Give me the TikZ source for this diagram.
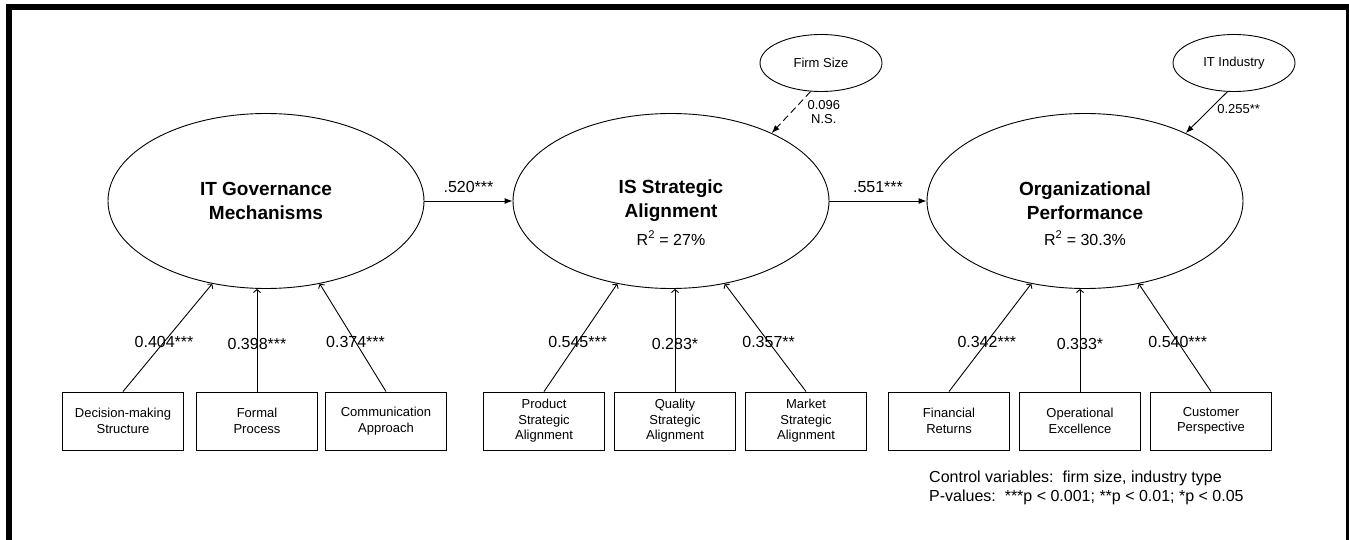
\documentclass[tikz,border=0pt]{standalone}
\usepackage{fontspec}
\setmainfont{Liberation Sans}
\usepackage{tikz}
\usetikzlibrary{shapes.geometric,arrows.meta}

\tikzset{
  construct/.style={ellipse,draw,line width=0.9pt,minimum width=316pt,minimum height=175pt,
    inner sep=0pt,align=center,font=\fontsize{19}{24}\selectfont\bfseries},
  control/.style={ellipse,draw,line width=0.9pt,minimum width=122pt,minimum height=57pt,
    inner sep=0pt,font=\fontsize{13}{15.5}\selectfont},
  indicator/.style={rectangle,draw,line width=0.9pt,minimum width=121pt,minimum height=58pt,
    inner sep=0pt,align=center,font=\fontsize{13}{15.5}\selectfont},
  loading/.style={line width=0.9pt,-{Straight Barb[length=3pt,width=7pt]}},
  structural/.style={line width=0.9pt,-{Latex[length=8pt,width=6pt]}},
  coef/.style={font=\fontsize{16}{19}\selectfont,inner sep=1pt},
  smallcoef/.style={font=\fontsize{13}{14}\selectfont,inner sep=1pt,align=center},
}

\begin{document}
\begin{tikzpicture}[x=1pt,y=-1pt]
    \useasboundingbox (0,0) rectangle (1349,540);
    \clip (0,0) rectangle (1349,540);
    % frame
    \draw[line width=6pt] (9,545) -- (9,7) -- (1349,7) -- (1349,545);

    % constructs
    \node[construct] (gov) at (266,201) {IT Governance\\Mechanisms};
    \node[construct] (isa) at (671,201) {IS Strategic\\Alignment};
    \node[construct] (orgp) at (1085,201) {Organizational\\Performance};
    \node[coef,anchor=base] (isar) at (671,245) {R\textsuperscript{2} = 27\%};
    \node[coef,anchor=base] (orgr) at (1085,245) {R\textsuperscript{2} = 30.3\%};

    % control variables
    \node[control] (firm) at (821,63) {Firm Size};
    \node[control] (ind) at (1234,63) {IT Industry};

    % indicators
    \node[indicator] (dms) at (123,421) {Decision-making\\Structure};
    \node[indicator] (fp) at (257,421) {Formal\\Process};
    \node[indicator] (ca) at (386,421) {Communication\\Approach};
    \node[indicator] (psa) at (544,421) {Product\\Strategic\\Alignment};
    \node[indicator] (qsa) at (675,421) {Quality\\Strategic\\Alignment};
    \node[indicator] (msa) at (806,421) {Market\\Strategic\\Alignment};
    \node[indicator] (fr) at (949,421) {Financial\\Returns};
    \node[indicator] (oe) at (1080,421) {Operational\\Excellence};
    \node[indicator] (cp) at (1211,421) {Customer\\Perspective};

    % loadings
    \draw[loading] (dms.north) -- (gov.237) node[coef,pos=0.46] {0.404***};
    \draw[loading] (fp.north) -- (fp.north |- gov.south) node[coef,pos=0.46] {0.398***};
    \draw[loading] (ca.north) -- (gov.303) node[coef,pos=0.46] {0.374***};
    \draw[loading] (psa.north) -- (isa.237) node[coef,pos=0.46] {0.545***};
    \draw[loading] (qsa.north) -- (qsa.north |- isa.south) node[coef,pos=0.46] {0.283*};
    \draw[loading] (msa.north) -- (isa.303) node[coef,pos=0.46] {0.357**};
    \draw[loading] (fr.north) -- (orgp.237) node[coef,pos=0.46] {0.342***};
    \draw[loading] (oe.north) -- (oe.north |- orgp.south) node[coef,pos=0.46] {0.333*};
    \draw[loading] (cp.north) -- (orgp.303) node[coef,pos=0.46] {0.540***};

    % paths
    \draw[structural] (gov) -- (isa) node[coef,midway,above=7pt] {.520***};
    \draw[structural] (isa) -- (orgp) node[coef,midway,above=7pt] {.551***};
    \draw[structural,dash pattern=on 7pt off 4pt] (firm.250) -- (isa.34)
        node[smallcoef,pos=0.5,anchor=west,xshift=15pt] {0.096\\N.S.};
    \draw[structural] (ind.257) -- (orgp.34)
        node[smallcoef,pos=0.42,anchor=west,xshift=6pt] {0.255**};

    \node[coef,anchor=north west,align=left,inner sep=0pt] (notes) at (929,471)
        {Control variables:\ \ firm size, industry type\\P-values:\ \ ***p < 0.001; **p < 0.01; *p < 0.05};
\end{tikzpicture}
\end{document}
